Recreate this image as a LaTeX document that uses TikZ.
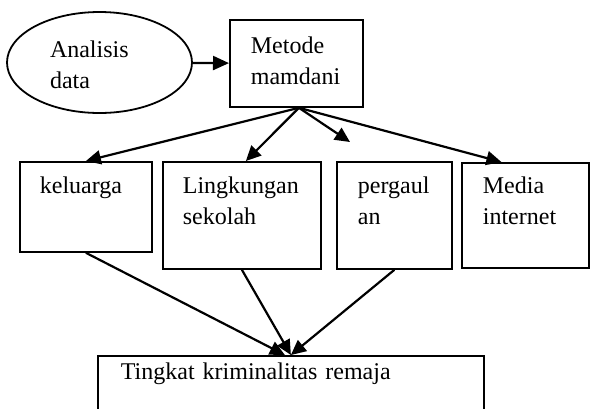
\documentclass[tikz,border=0pt]{standalone}
\usepackage{fontspec}
\setmainfont{Liberation Serif}
\usetikzlibrary{arrows.meta, shapes.geometric}
\definecolor{ink}{HTML}{000000}
\tikzset{
  box/.style={rectangle, draw=ink, line width=0.9pt, anchor=north west, align=left,
              inner ysep=0pt, inner xsep=10.5pt, text height=16pt,
              font=\fontsize{12}{15.5}\selectfont, text=ink},
  obox/.style={ellipse, draw=ink, line width=0.9pt, align=left, inner sep=0pt,
               font=\fontsize{12}{15.5}\selectfont, text=ink},
  fl/.style={-{Triangle[length=7.5pt, width=7pt]}, line width=1.1pt, draw=ink},
}

\begin{document}
\begin{tikzpicture}[x=1pt, y=1pt]
    \useasboundingbox (0,0) rectangle (295,-204);
    \node[obox, minimum width=92.5pt, minimum height=50.5pt, text width=49.5pt, text height=10pt, text depth=15.5pt] (analisis) at (49.75,-31.25) {Analisis\\data};
    \node[box, text width=45.5pt, text height=17pt, text depth=26.5pt] (metode) at (114.5,-9.5) {Metode\\mamdani};
    \node[box, inner xsep=10pt, text width=46pt, text depth=29pt] (keluarga) at (9.5,-80.5) {keluarga};
    \node[box, inner xsep=10pt, text width=59pt, text depth=37.5pt] (sekolah) at (81,-80.5) {Lingkungan\\sekolah};
    \node[box, text width=36.5pt, text depth=37.5pt] (pergaulan) at (168,-80.5) {pergaul\\an};
    \node[box, text width=42.5pt, text height=15.5pt, text depth=37pt] (media) at (230.5,-81) {Media\\internet};
    \node[box, inner xsep=11.5pt, text width=170pt, text height=12pt, text depth=16.5pt] (tingkat) at (48.5,-177.5) {Tingkat kriminalitas remaja};
    \coordinate (hub) at ([xshift=1.25pt]metode.south);
    \coordinate (pgend) at (175,-71);
    \draw[fl, -{Triangle[length=8pt, width=7pt]}] (analisis)--(metode);
    \draw[fl] (hub)--(keluarga.north); \draw[fl] (hub)--([xshift=2pt]sekolah.north);
    \draw[fl] (hub)--(pgend); \draw[fl] (hub)--([xshift=-12pt]media.north);
    \draw[fl] (keluarga.south)--([xshift=-3pt]tingkat.north); \draw[fl] (sekolah.south)--(tingkat.north);
    \draw[fl] (pergaulan.south)--(tingkat.north);
  \end{tikzpicture}
\end{document}
